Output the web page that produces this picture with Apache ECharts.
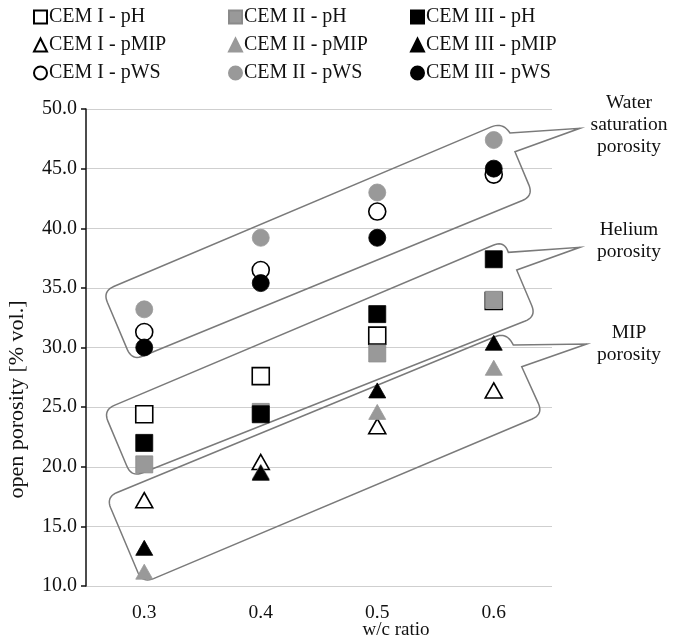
<!DOCTYPE html>
<html>
<head>
<meta charset="utf-8">
<script src="https://cdn.jsdelivr.net/npm/echarts@6/dist/echarts.min.js"></script>
<style>
  html, body { margin: 0; padding: 0; background: #fff; }
  #chart { width: 673px; height: 642px; }
</style>
</head>
<body>
<div id="chart"></div>
<script>
// w/c ratio categories
var ratios = ['0.3', '0.4', '0.5', '0.6'];

// open porosity [% vol.]
var cem1PH   = [24.4, 27.6, 31.0, 33.9];
var cem2PH   = [20.2, 24.6, 29.5, 34.0];
var cem3PH   = [22.0, 24.4, 32.8, 37.4];
var cem1PMIP = [17.2, 20.4, 23.4, 26.4];
var cem2PMIP = [11.2, 19.6, 24.6, 28.3];
var cem3PMIP = [13.2, 19.5, 26.4, 30.4];
var cem1PWS  = [31.3, 36.5, 41.4, 44.5];
var cem2PWS  = [33.2, 39.2, 43.0, 47.4];
var cem3PWS  = [30.0, 35.4, 39.2, 45.0];

var FONT = '"Liberation Serif", "Times New Roman", serif';
var GRAY = '#999999';

var chart = echarts.init(document.getElementById('chart'));

function scatter(name, data, symbol, fill, border, size) {
  return {
    type: 'scatter',
    name: name,
    data: data,
    symbol: symbol,
    symbolSize: size,
    itemStyle: { color: fill, borderColor: border, borderWidth: fill == '#fff' ? 1.6 : 0.8, opacity: 1 },
    emphasis: { disabled: true }
  };
}

var SQ = 17, CI = 17, TR = [17, 15];

var series = [
  scatter('CEM I - pH', cem1PH, 'rect', '#fff', '#000', SQ),
  scatter('CEM II - pH', cem2PH, 'rect', GRAY, '#8a8a8a', SQ),
  scatter('CEM III - pH', cem3PH, 'rect', '#000', '#000', SQ),
  scatter('CEM I - pMIP', cem1PMIP, 'triangle', '#fff', '#000', TR),
  scatter('CEM II - pMIP', cem2PMIP, 'triangle', GRAY, GRAY, TR),
  scatter('CEM III - pMIP', cem3PMIP, 'triangle', '#000', '#000', TR),
  scatter('CEM I - pWS', cem1PWS, 'circle', '#fff', '#000', CI),
  scatter('CEM II - pWS', cem2PWS, 'circle', GRAY, GRAY, CI),
  scatter('CEM III - pWS', cem3PWS, 'circle', '#000', '#000', CI)
];

function legendCol(left, names) {
  return {
    orient: 'vertical',
    left: left,
    top: 6,
    padding: 0,
    itemGap: 6,
    itemWidth: 13,
    itemHeight: 13,
    selectedMode: false,
    data: names,
    textStyle: { fontFamily: FONT, fontSize: 20, color: '#111', lineHeight: 22, padding: [0, 0, 0, -3] }
  };
}

chart.setOption({
  animation: false,
  grid: { left: 86, top: 109, width: 466, height: 477, outerBoundsMode: 'none' },
  legend: [
    legendCol(33, ['CEM I - pH', 'CEM I - pMIP', 'CEM I - pWS']),
    legendCol(228, ['CEM II - pH', 'CEM II - pMIP', 'CEM II - pWS']),
    legendCol(410, ['CEM III - pH', 'CEM III - pMIP', 'CEM III - pWS'])
  ],
  xAxis: {
    type: 'category',
    data: ratios,
    name: 'w/c ratio',
    nameLocation: 'middle',
    nameGap: 35,
    nameMoveOverlap: false,
    nameTextStyle: { fontFamily: FONT, fontSize: 19, color: '#111', padding: [0, 0, 0, 154] },
    axisLine: { show: false },
    axisTick: { show: false },
    axisLabel: { fontFamily: FONT, fontSize: 19.5, color: '#111', margin: 17 }
  },
  yAxis: {
    type: 'value',
    min: 10,
    max: 50,
    interval: 5,
    name: 'open porosity [% vol.]',
    nameLocation: 'middle',
    nameGap: 58,
    nameMoveOverlap: false,
    nameTextStyle: { fontFamily: FONT, fontSize: 22, color: '#111', padding: [0, 104, 0, 0] },
    axisLine: { show: true, lineStyle: { color: '#111', width: 1.5 } },
    axisTick: { show: true, length: 5, inside: false, lineStyle: { color: '#111', width: 1.5 } },
    axisLabel: {
      fontFamily: FONT, fontSize: 20, color: '#111', margin: 9,
      formatter: function (v) { return v.toFixed(1); }
    },
    splitLine: { lineStyle: { color: '#cfcfcf', width: 1.2 } }
  },
  series: series
});

// callout outlines, in (category index, value) space:
// corners TL, TR, wedge start, tip, wedge end, BR, BL
var waterCallout  = [[-0.357, 34.72], [3.074, 48.89], [3.139, 47.99], [3.740, 48.38], [3.182, 46.42], [3.341, 42.71], [-0.105, 28.90]];
var heliumCallout = [[-0.352, 24.75], [3.090, 38.97], [3.125, 37.98], [3.740, 38.40], [3.197, 36.50], [3.366, 32.59], [-0.109, 19.12]];
var mipCallout    = [[-0.328, 17.46], [3.105, 31.28], [3.168, 30.21], [3.798, 30.29], [3.240, 28.39], [3.425, 24.40], [-0.015, 10.23]];
var cornerRadius  = [12, 12, 0, 0, 0, 12, 12];

var calloutLabels = [
  { text: 'Water\nsaturation\nporosity', at: [4.161, 48.66] },
  { text: 'Helium\nporosity', at: [4.161, 38.93] },
  { text: 'MIP\nporosity', at: [4.161, 30.34] }
];

var p0 = chart.convertToPixel({ gridIndex: 0 }, [0, 10]);
var p1 = chart.convertToPixel({ gridIndex: 0 }, [3, 50]);
function toPx(p) {
  return [p0[0] + p[0] * (p1[0] - p0[0]) / 3, p0[1] + (p[1] - 10) * (p1[1] - p0[1]) / 40];
}

function roundedOutline(pts, radii) {
  var out = [];
  var n = pts.length;
  for (var i = 0; i < n; i++) {
    var p = pts[i];
    if (!radii[i]) { out.push(p); continue; }
    var a = pts[(i - 1 + n) % n], b = pts[(i + 1) % n];
    var da = Math.hypot(a[0] - p[0], a[1] - p[1]);
    var db = Math.hypot(b[0] - p[0], b[1] - p[1]);
    var r = Math.min(radii[i], da / 2, db);
    var q1 = [p[0] + (a[0] - p[0]) * r / da, p[1] + (a[1] - p[1]) * r / da];
    var q2 = [p[0] + (b[0] - p[0]) * r / db, p[1] + (b[1] - p[1]) * r / db];
    for (var k = 0; k <= 10; k++) {
      var t = k / 10;
      out.push([
        (1 - t) * (1 - t) * q1[0] + 2 * (1 - t) * t * p[0] + t * t * q2[0],
        (1 - t) * (1 - t) * q1[1] + 2 * (1 - t) * t * p[1] + t * t * q2[1]
      ]);
    }
  }
  return out;
}

var graphics = [];
[waterCallout, heliumCallout, mipCallout].forEach(function (c) {
  graphics.push({
    type: 'polygon',
    z: 1,
    silent: true,
    shape: { points: roundedOutline(c.map(toPx), cornerRadius) },
    style: { fill: 'none', stroke: '#7a7a7a', lineWidth: 1.5 }
  });
});
calloutLabels.forEach(function (l) {
  var xy = toPx(l.at);
  graphics.push({
    type: 'text',
    z: 1,
    silent: true,
    x: xy[0],
    y: xy[1],
    style: {
      text: l.text,
      fontFamily: FONT,
      fontSize: 19.5,
      lineHeight: 22,
      fill: '#111',
      align: 'center',
      verticalAlign: 'middle'
    }
  });
});

chart.setOption({ graphic: graphics });
</script>
</body>
</html>
